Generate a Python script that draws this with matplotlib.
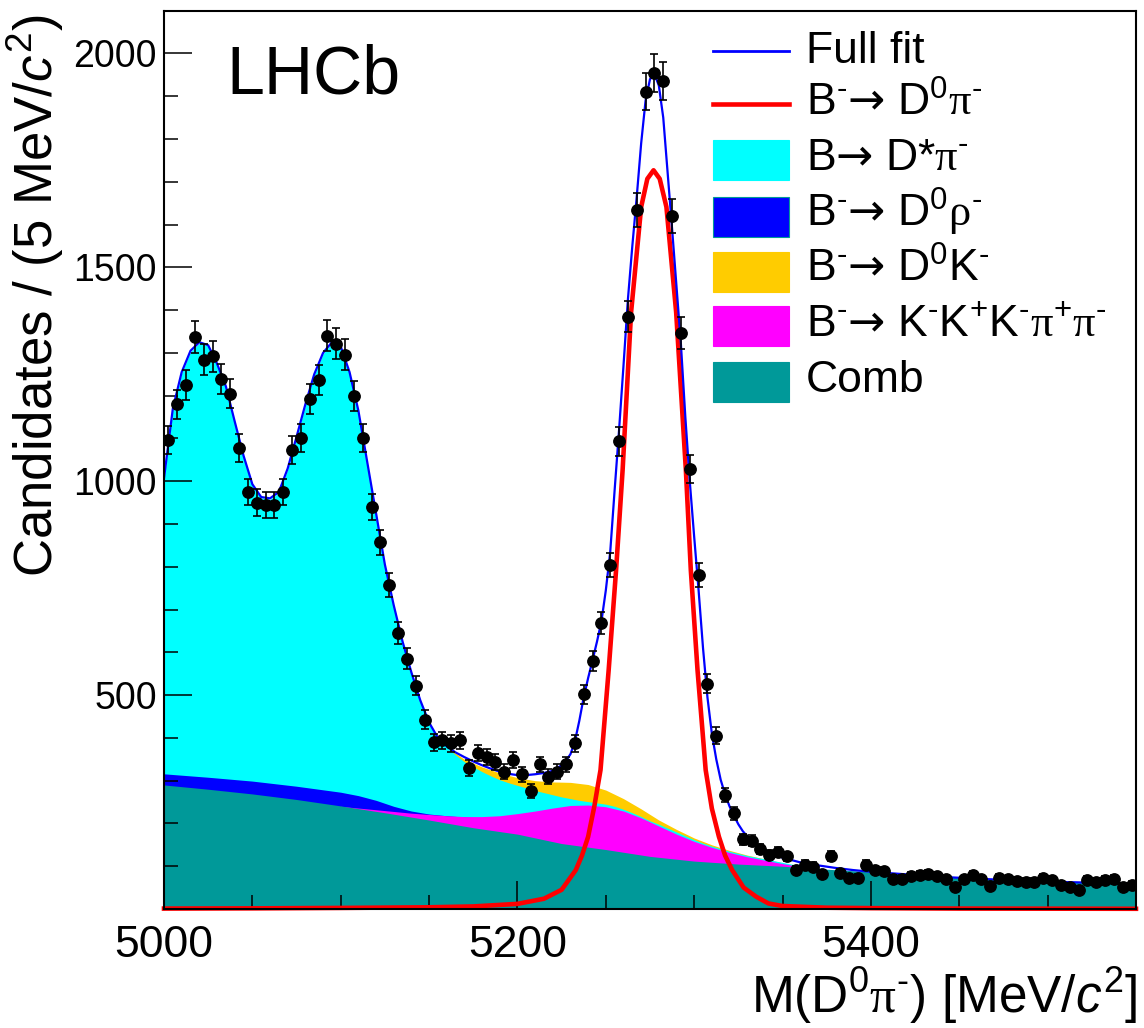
import numpy as np
import matplotlib
matplotlib.use('Agg')
import matplotlib.pyplot as plt
from matplotlib.ticker import MultipleLocator, FixedLocator
from matplotlib.patches import Rectangle
from matplotlib.lines import Line2D

plt.rcParams['font.family'] = ['Liberation Sans', 'DejaVu Sans']
plt.rcParams['mathtext.fontset'] = 'custom'
plt.rcParams['mathtext.rm'] = 'Liberation Sans'
plt.rcParams['mathtext.it'] = 'Liberation Sans:italic'
plt.rcParams['mathtext.sf'] = 'Liberation Sans'
plt.rcParams['mathtext.tt'] = 'DejaVu Sans'        # arrow glyph
plt.rcParams['mathtext.cal'] = 'Liberation Serif'  # greek letters, ROOT-like

# data: candidates per 5 MeV bin, 5000-5550
bin_lo = 5000.0
bin_w = 5.0
counts = [1096, 1180, 1226, 1337, 1284, 1292, 1240, 1205, 1078, 975,
          950, 944, 945, 975, 1072, 1101, 1192, 1237, 1340, 1321,
          1296, 1199, 1101, 940, 857, 758, 645, 585, 522, 443,
          390, 395, 387, 395, 330, 364, 356, 344, 321, 348,
          315, 276, 338, 309, 321, 338, 387, 502, 580, 668,
          804, 1093, 1385, 1634, 1911, 1954, 1935, 1620, 1347, 1029,
          780, 527, 405, 266, 224, 163, 160, 140, 127, 134,
          123, 92, 104, 99, 81, 124, 85, 73, 73, 104,
          91, 89, 71, 71, 77, 79, 82, 77, 69, 52,
          69, 79, 69, 54, 73, 69, 66, 64, 64, 73,
          68, 56, 52, 44, 68, 64, 68, 71, 52, 57]

# full fit
fit_m = [5000, 5005, 5010, 5015, 5020, 5025, 5030, 5035, 5040, 5045,
         5050, 5055, 5060, 5065, 5070, 5075, 5080, 5085, 5090, 5095,
         5100, 5105, 5110, 5115, 5120, 5125, 5130, 5135, 5140, 5145,
         5150, 5155, 5160, 5165, 5170, 5175, 5180, 5185, 5190, 5195,
         5200, 5205, 5210, 5215, 5220, 5225, 5227.5, 5230, 5232.5, 5235,
         5237.5, 5240, 5242.5, 5245, 5247.5, 5250, 5252.5, 5255, 5257.5, 5260,
         5262.5, 5265, 5267.5, 5270, 5272.5, 5275, 5277.5, 5280, 5282.5, 5285,
         5287.5, 5290, 5292.5, 5295, 5297.5, 5300, 5302.5, 5305, 5307.5, 5310,
         5312.5, 5315, 5317.5, 5320, 5322.5, 5325, 5327.5, 5330, 5332.5, 5335,
         5337.5, 5340, 5342.5, 5345, 5350, 5360, 5370, 5380, 5390, 5400,
         5410, 5420, 5430, 5440, 5450, 5460, 5470, 5480, 5490, 5500,
         5510, 5520, 5530, 5540, 5550]
fit_v = [1007, 1170, 1255, 1305, 1325, 1318, 1275, 1222, 1140, 1060,
         993, 963, 960, 975, 1030, 1104, 1180, 1250, 1300, 1325,
         1315, 1255, 1165, 1045, 925, 805, 710, 625, 553, 488,
         436, 400, 380, 366, 355, 345, 336, 328, 321, 316,
         313, 313, 315, 318, 323, 336, 347, 362, 392, 440,
         495, 540, 582, 625, 672, 745, 835, 980, 1120, 1270,
         1425, 1550, 1665, 1790, 1890, 1940, 1952, 1925, 1850, 1720,
         1590, 1455, 1320, 1150, 1000, 870, 745, 610, 495, 410,
         350, 302, 268, 240, 218, 198, 182, 170, 160, 152,
         144, 138, 133, 128, 120, 109, 102, 96, 91, 87,
         84, 81, 78, 75, 73, 71, 69, 67, 65, 64,
         63, 62, 61, 60, 59]

# B- -> D0 pi- signal
sig_m = [5000, 5050, 5100, 5150, 5175, 5200, 5215, 5225, 5233, 5236.5,
         5240, 5243.5, 5247, 5251.6, 5255.8, 5259.5, 5264.3, 5270, 5273.5, 5277,
         5280.5, 5284.3, 5289.8, 5295.3, 5298.1, 5301.9, 5306.5, 5310, 5314, 5317.5,
         5321.5, 5328, 5335, 5342, 5350, 5375, 5400, 5450, 5550]
sig_v = [1, 1.5, 2.5, 4, 6, 12, 24, 45, 91, 125,
         169, 240, 325, 558, 792, 1026, 1395, 1641, 1707, 1727,
         1707, 1641, 1395, 1026, 792, 558, 325, 235, 169, 125,
         91, 50, 29, 13, 7, 3, 2, 1, 0.5]

# stacked backgrounds (cumulative tops, as drawn)
dk_m = [5160, 5170, 5180, 5190, 5200, 5210, 5220, 5230, 5240, 5250,
        5260, 5270, 5280, 5290, 5300, 5310, 5320, 5330, 5340, 5350]
dk_top = [378, 350, 332, 318, 307, 300, 297, 296, 291, 278,
          258, 234, 208, 186, 166, 150, 137, 126, 117, 108]

dstar_m = [5000, 5005, 5010, 5015, 5020, 5025, 5030, 5035, 5040, 5045,
           5050, 5055, 5060, 5065, 5070, 5075, 5080, 5085, 5090, 5095,
           5100, 5105, 5110, 5115, 5120, 5125, 5130, 5135, 5140, 5145,
           5150, 5155, 5160, 5165, 5170, 5175, 5180, 5185, 5190, 5195,
           5200, 5205, 5210, 5215, 5220, 5225, 5230, 5235, 5240, 5245,
           5250, 5255, 5260, 5265, 5270, 5275, 5280, 5285, 5290, 5295,
           5300, 5305, 5310, 5315, 5320, 5325, 5330, 5335, 5340, 5345,
           5350, 5355, 5360]
dstar_top = [1005, 1168, 1253, 1303, 1323, 1316, 1273, 1220, 1138, 1058,
             991, 961, 958, 973, 1028, 1102, 1178, 1248, 1298, 1323,
             1313, 1253, 1163, 1043, 923, 803, 708, 623, 551, 486,
             434, 398, 378, 360, 344, 332, 321, 311, 302, 295,
             289, 283, 277, 272, 267, 262, 258, 254, 251, 248,
             245, 240, 233, 225, 216, 206, 198, 189, 180, 171,
             162, 154, 147, 141, 135, 130, 125, 121, 117, 113,
             109, 105, 101]

rho_m = [5000, 5025, 5050, 5075, 5100, 5110, 5120, 5130, 5140, 5150,
         5160, 5170, 5175]
rho_top = [316, 308, 299, 287, 273, 265, 254, 240, 229, 222,
           218, 215, 214]

kkk_m = [5100, 5110, 5120, 5130, 5140, 5150, 5160, 5170, 5180, 5190,
         5200, 5210, 5220, 5230, 5240, 5250, 5260, 5270, 5280, 5290,
         5300, 5310, 5320, 5330, 5340, 5350, 5360, 5370]
kkk_top = [240, 236, 232, 228, 224, 221, 218, 216, 216, 218,
           223, 229, 236, 242, 243, 239, 229, 213, 194, 175,
           158, 144, 132, 122, 114, 106, 99, 94]

comb_m = [5000, 5025, 5050, 5075, 5100, 5125, 5150, 5175, 5200, 5225,
          5250, 5275, 5300, 5325, 5350, 5375, 5400, 5425, 5450, 5475,
          5500, 5525, 5550]
comb_top = [290, 280, 269, 256, 241, 225, 208, 190, 175, 153,
            139, 123, 112, 105, 100, 93, 87, 81, 74, 69,
            65, 61, 58]

# ROOT-style pieces: short superscript dash, long arrow, serif greek
M = r'^{\text{-}}'
P = r'^{+}'
ARR = r'\mathtt{→}'
PI = r'\mathcal{\pi}'
RHO = r'\mathcal{\rho}'

labels = ['Full fit',
          rf'B${M}{ARR}$ D$^{{0}}{PI}{M}$',
          rf'B${ARR}$ D*${PI}{M}$',
          rf'B${M}{ARR}$ D$^{{0}}{RHO}{M}$',
          rf'B${M}{ARR}$ D$^{{0}}$K${M}$',
          rf'B${M}{ARR}$ K${M}$K${P}$K${M}{PI}{P}{PI}{M}$',
          'Comb']
xtitle = rf'M(D$^{{0}}{PI}{M}$) [MeV/$c^{{2}}$]'
ytitle = r'Candidates / (5 MeV/$c^{2}$)'

c_cyan = '#00ffff'
c_rho = '#0000ff'
c_dk = '#ffcc00'
c_kkk = '#ff00ff'
c_comb = '#009999'

W, H = 1144, 1028
fig = plt.figure(figsize=(W / 100, H / 100), dpi=100)
ax = fig.add_axes([164 / W, 1 - 909 / H, (1136 - 164) / W, (909 - 10.7) / H])

ax.fill_between(dk_m, 0, dk_top, color=c_dk, lw=0, zorder=1.0)
ax.fill_between(dstar_m, 0, dstar_top, color=c_cyan, lw=0, zorder=1.1)
ax.fill_between(rho_m, 0, rho_top, color=c_rho, lw=0, zorder=1.2)
ax.fill_between(kkk_m, 0, kkk_top, color=c_kkk, lw=0, zorder=1.3)
ax.fill_between(comb_m, 0, comb_top, color=c_comb, lw=0, zorder=1.4)

ax.plot(sig_m, sig_v, color='#ff0000', lw=3.3, zorder=2.0, clip_on=False,
        solid_joinstyle='round')
ax.plot(fit_m, fit_v, color='#0000ff', lw=1.6, zorder=2.1)

x = bin_lo + bin_w * (np.arange(len(counts)) + 0.5)
y = np.array(counts, dtype=float)
ax.errorbar(x, y, yerr=np.sqrt(y), fmt='o', color='black', ms=8.2,
            elinewidth=1.2, capsize=3.0, capthick=1.2, zorder=2.3)

ax.set_xlim(5000, 5550)
ax.set_ylim(0, 2100)
ax.xaxis.set_major_locator(FixedLocator([5000, 5200, 5400]))
ax.xaxis.set_minor_locator(MultipleLocator(50))
ax.yaxis.set_major_locator(FixedLocator([500, 1000, 1500, 2000]))
ax.yaxis.set_minor_locator(MultipleLocator(100))
ax.tick_params(which='both', direction='in', top=False, right=False, width=1.1)
ax.tick_params(which='major', length=20)
ax.tick_params(which='minor', length=10)
ax.tick_params(axis='x', which='major', labelsize=32, pad=11.5)
ax.tick_params(axis='y', which='major', labelsize=27, pad=5)
for s in ax.spines.values():
    s.set_linewidth(1.5)
    s.set_zorder(3)

fig.text(1137 / W, 1 - 1013 / H, xtitle, fontsize=37, ha='right', va='baseline')
fig.text(53 / W, 1 - 15 / H, ytitle, fontsize=38, rotation=90,
         rotation_mode='anchor', ha='right', va='baseline')
fig.text(226 / W, 1 - 93 / H, 'LHCb', fontsize=49, ha='left', va='baseline')

# legend, drawn by hand
baselines = [62.7, 115.7, 170.3, 226.7, 281.7, 336, 392.3]
line_cols = ['#0000ff', '#ff0000']
line_w = [2.0, 3.3]
box_cols = [c_cyan, c_rho, c_dk, c_kkk, c_comb]
box_edges = [c_cyan, c_comb, c_dk, c_kkk, c_comb]
for i, lab in enumerate(labels):
    yb = baselines[i]
    if i < 2:
        yl = 1 - (yb - 12) / H
        fig.add_artist(Line2D([713 / W, 789 / W], [yl, yl], color=line_cols[i],
                              lw=line_w[i]))
    else:
        j = i - 2
        fig.add_artist(Rectangle((713 / W, 1 - (yb + 10) / H), 76 / W, 40 / H,
                                 facecolor=box_cols[j], edgecolor=box_edges[j],
                                 lw=0.8))
    fig.text(806 / W, 1 - yb / H, lab, fontsize=32, ha='left', va='baseline')

fig.savefig('out.png', dpi=100)
